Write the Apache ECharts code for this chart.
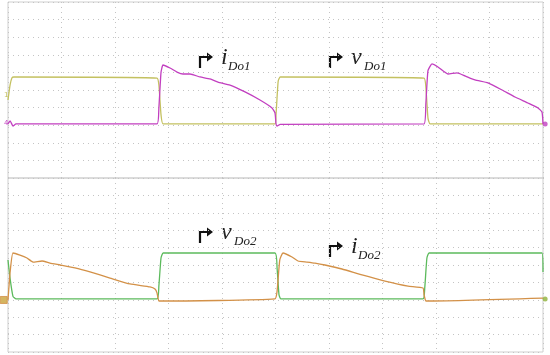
<!DOCTYPE html>
<html><head><meta charset="utf-8">
<script src="https://cdn.jsdelivr.net/npm/echarts@6/dist/echarts.min.js"></script>
<style>html,body{margin:0;padding:0;background:#fff}#c{width:550px;height:355px}</style>
</head><body><div id="c"></div>
<script>
// time in scope divisions (0..10), amplitude in scope divisions (0..10)
const vDo1_t = [0, 0.04, 0.075, 0.11, 2.785, 2.82, 2.86, 2.90, 4.99, 5.01, 5.05, 5.09, 7.776, 7.81, 7.85, 7.89, 10];
const vDo1_v = [4.43, 5.3, 5.70, 5.74, 5.68, 5.3, 3.6, 3.07, 3.07, 3.6, 5.5, 5.74, 5.68, 5.2, 3.4, 3.07, 3.07];

const iDo1_t = [0, 0.04, 0.093, 0.15, 2.785, 2.82, 2.86, 2.897, 3.028, 3.159, 3.271, 3.402, 3.589, 3.776, 3.925, 4.150, 4.430, 4.710, 4.935, 4.991, 5.01, 5.028, 5.09, 7.776, 7.81, 7.85, 7.925, 8.037, 8.224, 8.393, 8.542, 8.729, 8.972, 9.234, 9.477, 9.720, 9.907, 9.981, 10];
const iDo1_v = [3.07, 3.24, 2.95, 3.07, 3.07, 4.0, 6.0, 6.42, 6.25, 6.02, 5.91, 5.91, 5.74, 5.63, 5.45, 5.28, 4.89, 4.43, 3.98, 3.69, 3.07, 2.95, 3.05, 3.07, 4.2, 6.1, 6.48, 6.31, 5.91, 5.97, 5.80, 5.57, 5.40, 5.0, 4.60, 4.26, 3.98, 3.75, 3.07];

const vDo2_t = [0, 0.04, 0.093, 0.15, 2.785, 2.82, 2.86, 2.90, 4.99, 5.03, 5.065, 5.10, 7.757, 7.79, 7.83, 7.87, 9.981, 10];
const vDo2_v = [5.29, 4.2, 3.2, 3.05, 3.05, 3.8, 5.4, 5.69, 5.69, 4.8, 3.3, 3.05, 3.05, 3.7, 5.4, 5.69, 5.69, 4.6];

const iDo2_t = [0, 0.04, 0.093, 0.224, 0.355, 0.467, 0.636, 0.785, 0.972, 1.252, 1.533, 1.907, 2.280, 2.654, 2.748, 2.785, 2.82, 2.86, 4.99, 5.03, 5.08, 5.140, 5.308, 5.421, 5.589, 5.738, 5.925, 6.243, 6.617, 7.047, 7.477, 7.757, 7.776, 7.81, 7.85, 10];
const iDo2_v = [2.99, 4.6, 5.69, 5.57, 5.40, 5.17, 5.23, 5.11, 5.0, 4.83, 4.60, 4.25, 3.91, 3.74, 3.62, 3.4, 2.93, 2.93, 3.05, 3.5, 5.3, 5.69, 5.46, 5.23, 5.17, 5.11, 5.0, 4.77, 4.43, 4.08, 3.79, 3.68, 3.3, 2.93, 2.93, 3.10];

// channel reference markers [time, level]
const refTop = [[10.04, 3.07]];
const refBottom = [[-0.08, 2.99]];
const refBottomRight = [[10.04, 3.05]];

const zip = (t, v) => t.map((x, i) => [x, v[i]]);

const colYellow = '#c4c160', colMag = '#c23fc0', colGreen = '#5cba5c', colOrange = '#d39148';

const axisX = (gi) => ({
  type: 'value', gridIndex: gi, min: 0, max: 10, interval: 1,
  axisLine: {show: false}, axisTick: {show: false}, axisLabel: {show: false},
  splitLine: {show: true, lineStyle: {color: '#c4c4c4', type: [1, 4], width: 1}}
});
const axisY = (gi) => ({
  type: 'value', gridIndex: gi, min: 0, max: 10, interval: 1,
  axisLine: {show: false}, axisTick: {show: false}, axisLabel: {show: false},
  splitLine: {show: true, lineStyle: {color: '#c4c4c4', type: [1, 4], width: 1}}
});
const line = (name, t, v, color, gi) => ({
  name, type: 'line', xAxisIndex: gi, yAxisIndex: gi, data: zip(t, v),
  showSymbol: false, smooth: 0.15, lineStyle: {color, width: 1.3}, animation: false, z: 3
});

const serif = '"Liberation Serif", "DejaVu Serif", serif';
const label = (x, y, letter, sub) => ({
  type: 'group', x: x, y: y, children: [
    {type: 'polyline', shape: {points: [[1, 14], [1, 3], [9, 3]]}, style: {stroke: '#111', lineWidth: 2.2, fill: null}},
    {type: 'polygon', shape: {points: [[8, -1.5], [14, 3], [8, 7.5]]}, style: {fill: '#111'}},
    {type: 'text', x: 22, y: -8, style: {text: letter, font: 'italic 24px ' + serif, fill: '#222'}},
    {type: 'text', x: 22 + (letter === 'i' ? 7 : 13), y: 6, style: {text: sub, font: 'italic 13px ' + serif, fill: '#222'}}
  ]
});

const chart = echarts.init(document.getElementById('c'), null, {renderer: 'canvas'});
chart.setOption({
  animation: false,
  backgroundColor: '#fff',
  grid: [
    {left: 8, top: 2, width: 535, height: 176, show: true, borderColor: '#cfcfcf', borderWidth: 1},
    {left: 8, top: 178, width: 535, height: 174, show: true, borderColor: '#cfcfcf', borderWidth: 1}
  ],
  xAxis: [axisX(0), axisX(1)],
  yAxis: [axisY(0), axisY(1)],
  series: [
    line('vDo1', vDo1_t, vDo1_v, colYellow, 0),
    line('iDo1', iDo1_t, iDo1_v, colMag, 0),
    line('vDo2', vDo2_t, vDo2_v, colGreen, 1),
    line('iDo2', iDo2_t, iDo2_v, colOrange, 1),
    {type: 'scatter', xAxisIndex: 0, yAxisIndex: 0, data: refTop, symbol: 'circle', symbolSize: 5, itemStyle: {color: colMag}, clip: false, silent: true, z: 4},
    {type: 'scatter', xAxisIndex: 1, yAxisIndex: 1, data: refBottom, symbol: 'rect', symbolSize: 7, itemStyle: {color: '#c9a23a', borderColor: colOrange}, clip: false, silent: true, z: 4},
    {type: 'scatter', xAxisIndex: 1, yAxisIndex: 1, data: refBottomRight, symbol: 'circle', symbolSize: 5, itemStyle: {color: '#8fb23a'}, clip: false, silent: true, z: 4}
  ],
  graphic: [
    label(199, 54, 'i', 'Do1'),
    label(329, 54, 'v', 'Do1'),
    label(199, 229, 'v', 'Do2'),
    label(329, 243, 'i', 'Do2'),
    {type: 'text', left: 4, top: 92, style: {text: '1', font: '7px "DejaVu Sans"', fill: colYellow}},
    {type: 'text', left: 4, top: 120, style: {text: '4', font: '7px "DejaVu Sans"', fill: colMag}}
  ]
});
</script></body></html>
